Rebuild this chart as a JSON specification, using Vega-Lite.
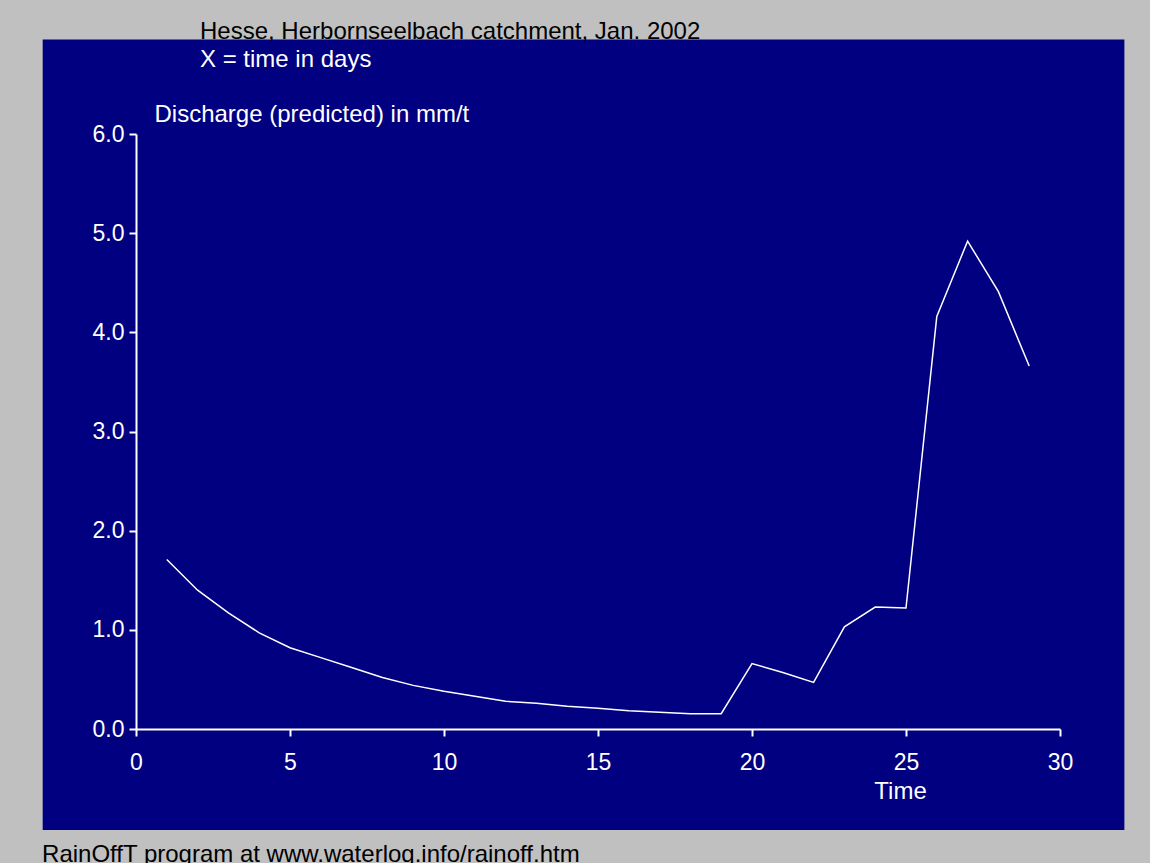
{
  "$schema": "https://vega.github.io/schema/vega-lite/v6.json",
  "width": 924,
  "height": 595,
  "autosize": {"type": "none"},
  "padding": {"left": 136, "top": 134, "right": 90, "bottom": 134},
  "background": "#c0c0c0",
  "config": {"view": {"stroke": null}, "font": "Liberation Sans"},
  "title": {
    "text": "Hesse, Herbornseelbach catchment, Jan. 2002",
    "subtitle": "X = time in days",
    "anchor": "start",
    "frame": "group",
    "dx": 64,
    "color": "#000000",
    "subtitleColor": "#ffffff",
    "fontSize": 24,
    "subtitleFontSize": 24,
    "fontWeight": "normal",
    "font": "Liberation Sans",
    "subtitleFont": "Liberation Sans",
    "subtitlePadding": 4,
    "offset": -33
  },
  "resolve": {"axis": {"x": "independent", "y": "independent"}},
  "datasets": {
    "discharge": [
      {"day": 1, "q": 1.71}, {"day": 2, "q": 1.40}, {"day": 3, "q": 1.17},
      {"day": 4, "q": 0.97}, {"day": 5, "q": 0.82}, {"day": 6, "q": 0.72},
      {"day": 7, "q": 0.62}, {"day": 8, "q": 0.52}, {"day": 9, "q": 0.44},
      {"day": 10, "q": 0.38}, {"day": 11, "q": 0.33}, {"day": 12, "q": 0.28},
      {"day": 13, "q": 0.26}, {"day": 14, "q": 0.23}, {"day": 15, "q": 0.21},
      {"day": 16, "q": 0.185}, {"day": 17, "q": 0.17}, {"day": 18, "q": 0.155},
      {"day": 19, "q": 0.155}, {"day": 20, "q": 0.66}, {"day": 21, "q": 0.57},
      {"day": 22, "q": 0.47}, {"day": 23, "q": 1.03}, {"day": 24, "q": 1.23},
      {"day": 25, "q": 1.22}, {"day": 26, "q": 4.16}, {"day": 27, "q": 4.92},
      {"day": 28, "q": 4.41}, {"day": 29, "q": 3.66}
    ],
    "footer": [{"label": "RainOffT program at www.waterlog.info/rainoff.htm"}]
  },
  "layer": [
    {
      "data": {"name": "footer"},
      "mark": {"type": "rect", "color": "#000080"},
      "encoding": {
        "x": {"datum": -3.03, "type": "quantitative", "scale": {"domain": [0, 30], "nice": false}, "axis": null},
        "x2": {"datum": 32.09},
        "y": {"datum": 6.953, "type": "quantitative", "scale": {"domain": [0, 6], "nice": false}, "axis": null},
        "y2": {"datum": -1.019}
      }
    },
    {
      "data": {"name": "footer"},
      "mark": {"type": "text", "align": "left", "baseline": "alphabetic", "fontSize": 24, "color": "#000000", "font": "Liberation Sans"},
      "encoding": {
        "x": {"datum": -3.05, "type": "quantitative", "scale": {"domain": [0, 30], "nice": false}, "axis": null},
        "y": {"datum": -1.342, "type": "quantitative", "scale": {"domain": [0, 6], "nice": false}, "axis": null},
        "text": {"field": "label"}
      }
    },
    {
      "data": {"name": "discharge"},
      "mark": {"type": "line", "color": "#ffffff", "strokeWidth": 1.5},
      "encoding": {
        "x": {
          "field": "day",
          "type": "quantitative",
          "scale": {"domain": [0, 30], "nice": false},
          "axis": {
            "zindex": 1,
            "values": [0, 5, 10, 15, 20, 25, 30],
            "grid": false,
            "domainColor": "#ffffff",
            "domainWidth": 2,
            "tickColor": "#ffffff",
            "tickWidth": 2,
            "tickSize": 7,
            "labelColor": "#ffffff",
            "labelFontSize": 23,
            "labelFont": "Liberation Sans",
            "labelPadding": 15,
            "labelFlush": false,
            "title": "Time",
            "titleColor": "#ffffff",
            "titleFontSize": 24,
            "titleFontWeight": "normal",
            "titleFont": "Liberation Sans",
            "titleBaseline": "alphabetic",
            "titleAlign": "center",
            "titleX": 764,
            "titleY": 69
          }
        },
        "y": {
          "field": "q",
          "type": "quantitative",
          "scale": {"domain": [0, 6], "nice": false},
          "axis": {
            "zindex": 1,
            "values": [0, 1, 2, 3, 4, 5, 6],
            "format": ".1f",
            "grid": false,
            "domainColor": "#ffffff",
            "domainWidth": 2,
            "tickColor": "#ffffff",
            "tickWidth": 2,
            "tickSize": 7,
            "labelColor": "#ffffff",
            "labelFontSize": 23,
            "labelFont": "Liberation Sans",
            "labelPadding": 5,
            "labelFlush": false,
            "title": "Discharge (predicted) in mm/t",
            "titleColor": "#ffffff",
            "titleFontSize": 24,
            "titleFontWeight": "normal",
            "titleFont": "Liberation Sans",
            "titleAngle": 0,
            "titleBaseline": "alphabetic",
            "titleAlign": "left",
            "titleX": 18,
            "titleY": -13
          }
        }
      }
    }
  ]
}
